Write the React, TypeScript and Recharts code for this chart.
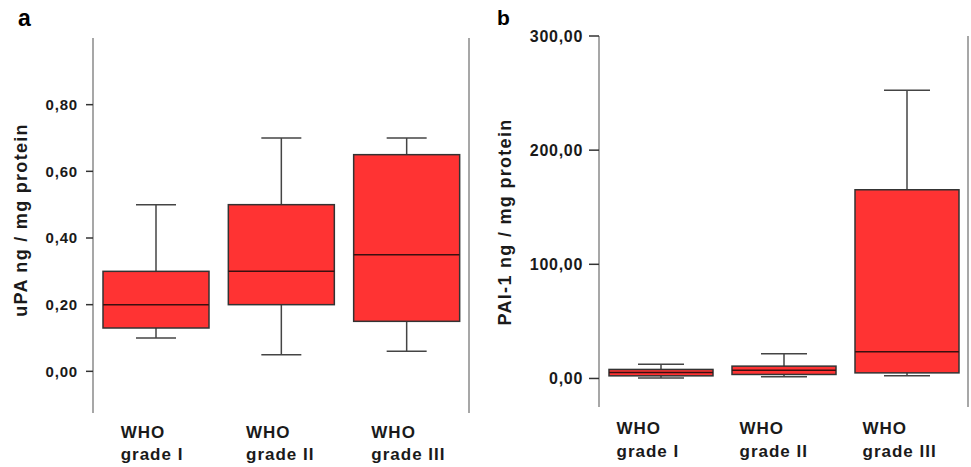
import React from "react"
import { Bar, ComposedChart, XAxis, YAxis } from "recharts"

// categories shared by both panels
const grades = ["WHO grade I", "WHO grade II", "WHO grade III"]

// panel a: uPA (ng / mg protein)
const uPAMin = [0.1, 0.05, 0.06]
const uPAQ1 = [0.13, 0.2, 0.15]
const uPAMedian = [0.2, 0.3, 0.35]
const uPAQ3 = [0.3, 0.5, 0.65]
const uPAMax = [0.5, 0.7, 0.7]
const uPATicks = [0, 0.2, 0.4, 0.6, 0.8]

// panel b: PAI-1 (ng / mg protein)
const paiMin = [0.5, 1.4, 2.3]
const paiQ1 = [2.3, 3.5, 4.9]
const paiMedian = [5.3, 7.3, 23.4]
const paiQ3 = [7.9, 10.8, 165.3]
const paiMax = [12.5, 21.6, 252.5]
const paiTicks = [0, 100, 200, 300]

const buildRows = (min: number[], q1: number[], med: number[], q3: number[], max: number[]) =>
  grades.map((name, i) => ({ name, min: min[i], q1: q1[i], median: med[i], q3: q3[i], max: max[i] }))

const uPAData = buildRows(uPAMin, uPAQ1, uPAMedian, uPAQ3, uPAMax)
const paiData = buildRows(paiMin, paiQ1, paiMedian, paiQ3, paiMax)

const FONT = "'Liberation Sans', Arial, sans-serif"
const RED = "#ff3333"
const DARK = "#333"
const AXIS = "#8a8a8a"

const fmt = (v: number) => v.toFixed(2).replace(".", ",")

// box drawn inside the [min, max] range bar; inner values mapped linearly on the bar's scaled span
function BoxShape(props: any) {
  const { x, y, width, height, payload, capWidth } = props
  const top = Math.min(y, y + height)
  const bottom = Math.max(y, y + height)
  const span = payload.max - payload.min
  const py = (v: number) => top + ((payload.max - v) / span) * (bottom - top)
  const cx = x + width / 2
  const yQ1 = py(payload.q1)
  const yQ3 = py(payload.q3)
  const yMed = py(payload.median)
  return (
    <g>
      <line x1={cx} x2={cx} y1={top} y2={yQ3} stroke="#444" strokeWidth={1.5} />
      <line x1={cx} x2={cx} y1={yQ1} y2={bottom} stroke="#444" strokeWidth={1.5} />
      <line x1={cx - capWidth / 2} x2={cx + capWidth / 2} y1={top} y2={top} stroke="#444" strokeWidth={1.5} />
      <line x1={cx - capWidth / 2} x2={cx + capWidth / 2} y1={bottom} y2={bottom} stroke="#444" strokeWidth={1.5} />
      <rect x={x} y={yQ3} width={width} height={Math.max(yQ1 - yQ3, 1)} fill={RED} stroke={DARK} strokeWidth={1.5} />
      <line x1={x} x2={x + width} y1={yMed} y2={yMed} stroke="#3a1010" strokeWidth={1.5} />
    </g>
  )
}

function GradeTick(props: any) {
  const { x, y, payload, dx, dy1, dy2 } = props
  const label: string = payload.value
  const cut = label.indexOf(" ")
  return (
    <g fontFamily={FONT} fontWeight="bold" fontSize={17} fill="#1a1a1a" letterSpacing={1}>
      <text x={x + dx} y={y + dy1} textAnchor="start">{label.slice(0, cut)}</text>
      <text x={x + dx} y={y + dy2} textAnchor="start">{label.slice(cut + 1)}</text>
    </g>
  )
}

const titleStyle = { fontFamily: FONT, fontWeight: "bold" as const, fontSize: 18, fill: "#1a1a1a", letterSpacing: 1.3 }

export default function App() {
  return (
    <div style={{ position: "absolute", left: 0, top: 0, width: 971, height: 467, background: "#fff" }}>
      <div style={{ position: "absolute", left: 18, top: 5, fontFamily: FONT, fontWeight: "bold", fontSize: 23 }}>a</div>
      <div style={{ position: "absolute", left: 497, top: 6, fontFamily: FONT, fontWeight: "bold", fontSize: 21 }}>b</div>

      <div style={{ position: "absolute", left: 0, top: 0 }}>
        <ComposedChart width={490} height={467} data={uPAData} margin={{ top: 38, right: 20, bottom: 0, left: 0 }}>
          <XAxis
            dataKey="name"
            height={54}
            axisLine={false}
            tickLine={false}
            tickSize={0}
            tickMargin={0}
            interval={0}
            tick={<GradeTick dx={-35} dy1={25} dy2={47} />}
          />
          <YAxis
            width={93}
            domain={[-0.125, 1.0]}
            ticks={uPATicks}
            allowDataOverflow
            tickFormatter={fmt}
            tickSize={7}
            tickMargin={8}
            axisLine={{ stroke: AXIS, strokeWidth: 1.5 }}
            tickLine={{ stroke: DARK, strokeWidth: 1.5 }}
            tick={{ fontFamily: FONT, fontWeight: "bold", fontSize: 15, fill: "#1a1a1a", letterSpacing: 0.8 }}
            label={{
              content: () => (
                <text transform="translate(27,220) rotate(-90)" textAnchor="middle" {...titleStyle}>
                  uPA ng / mg protein
                </text>
              ),
            }}
          />
          <YAxis
            yAxisId="right"
            orientation="right"
            width={1}
            domain={[-0.125, 1.0]}
            ticks={[]}
            tick={false}
            tickLine={false}
            axisLine={{ stroke: AXIS, strokeWidth: 1.5 }}
          />
          <Bar
            dataKey={(d: any) => [d.min, d.max]}
            barSize={106}
            isAnimationActive={false}
            shape={(p: any) => <BoxShape {...p} capWidth={40} />}
          />
        </ComposedChart>
      </div>

      <div style={{ position: "absolute", left: 490, top: 0 }}>
        <ComposedChart width={481} height={467} data={paiData} margin={{ top: 36, right: 2, bottom: 0, left: 0 }}>
          <XAxis
            dataKey="name"
            height={60}
            axisLine={false}
            tickLine={false}
            tickSize={0}
            tickMargin={0}
            interval={0}
            tick={<GradeTick dx={-44} dy1={27} dy2={50} />}
          />
          <YAxis
            width={109}
            domain={[-25, 300]}
            ticks={paiTicks}
            allowDataOverflow
            tickFormatter={fmt}
            tickSize={10}
            tickMargin={6}
            axisLine={{ stroke: AXIS, strokeWidth: 1.5 }}
            tickLine={{ stroke: DARK, strokeWidth: 1.5 }}
            tick={{ fontFamily: FONT, fontWeight: "bold", fontSize: 16, fill: "#1a1a1a", letterSpacing: 0.7 }}
            label={{
              content: () => (
                <text transform="translate(21,222) rotate(-90)" textAnchor="middle" {...titleStyle}>
                  PAI-1 ng / mg protein
                </text>
              ),
            }}
          />
          <YAxis
            yAxisId="right"
            orientation="right"
            width={1}
            domain={[-25, 300]}
            ticks={[]}
            tick={false}
            tickLine={false}
            axisLine={{ stroke: AXIS, strokeWidth: 1.5 }}
          />
          <Bar
            dataKey={(d: any) => [d.min, d.max]}
            barSize={104}
            isAnimationActive={false}
            shape={(p: any) => <BoxShape {...p} capWidth={46} />}
          />
        </ComposedChart>
      </div>
    </div>
  )
}
